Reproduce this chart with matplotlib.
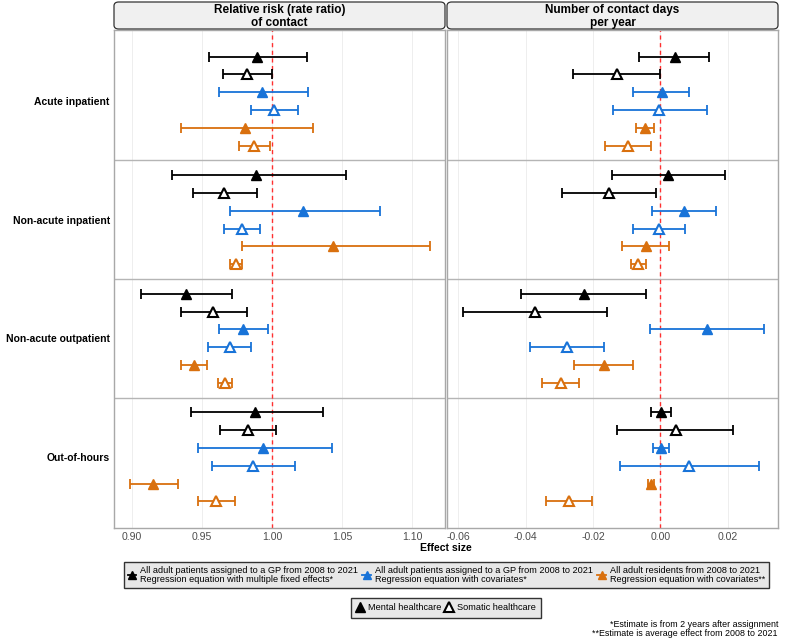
import matplotlib.pyplot as plt
from matplotlib.lines import Line2D
from matplotlib.patches import FancyBboxPatch

plt.rcParams['font.family'] = ['Liberation Sans', 'DejaVu Sans']

categories = ["Acute inpatient", "Non-acute inpatient", "Non-acute outpatient", "Out-of-hours"]

# rows: GP fixed effects (mental, somatic), GP covariates (mental, somatic),
#       residents covariates (mental, somatic); columns follow categories
rr_est = [
    [0.9895, 0.9886, 0.9386, 0.9876],
    [0.9820, 0.9659, 0.9581, 0.9829],
    [0.9930, 1.0219, 0.9795, 0.9936],
    [1.0014, 0.9788, 0.9698, 0.9862],
    [0.9807, 1.0438, 0.9443, 0.9148],
    [0.9874, 0.9743, 0.9662, 0.9600],
]
rr_lo = [
    [0.9550, 0.9283, 0.9064, 0.9417],
    [0.9648, 0.9434, 0.9352, 0.9631],
    [0.9617, 0.9698, 0.9624, 0.9469],
    [0.9850, 0.9659, 0.9545, 0.9567],
    [0.9348, 0.9786, 0.9348, 0.8981],
    [0.9767, 0.9698, 0.9612, 0.9469],
]
rr_hi = [
    [1.0250, 1.0529, 0.9714, 1.0362],
    [1.0000, 0.9893, 0.9819, 1.0029],
    [1.0257, 1.0769, 0.9971, 1.0426],
    [1.0188, 0.9917, 0.9852, 1.0162],
    [1.0293, 1.1131, 0.9538, 0.9324],
    [0.9986, 0.9788, 0.9716, 0.9736],
]

days_est = [
    [0.0042, 0.0024, -0.0228, 0.0001],
    [-0.0129, -0.0152, -0.0371, 0.0045],
    [0.0004, 0.0070, 0.0139, 0.0001],
    [-0.0003, -0.0005, -0.0278, 0.0085],
    [-0.0047, -0.0042, -0.0167, -0.0029],
    [-0.0095, -0.0065, -0.0295, -0.0270],
]
days_lo = [
    [-0.0062, -0.0143, -0.0413, -0.0028],
    [-0.0258, -0.0292, -0.0587, -0.0130],
    [-0.0080, -0.0026, -0.0031, -0.0022],
    [-0.0141, -0.0081, -0.0386, -0.0121],
    [-0.0073, -0.0114, -0.0255, -0.0038],
    [-0.0165, -0.0088, -0.0350, -0.0339],
]
days_hi = [
    [0.0143, 0.0191, -0.0044, 0.0031],
    [0.0000, -0.0014, -0.0158, 0.0216],
    [0.0086, 0.0165, 0.0308, 0.0026],
    [0.0139, 0.0072, -0.0167, 0.0292],
    [-0.0020, 0.0027, -0.0080, -0.0019],
    [-0.0027, -0.0042, -0.0240, -0.0203],
]

group_labels = [
    "All adult patients assigned to a GP from 2008 to 2021\nRegression equation with multiple fixed effects*",
    "All adult patients assigned to a GP from 2008 to 2021\nRegression equation with covariates*",
    "All adult residents from 2008 to 2021\nRegression equation with covariates**",
]
group_colors = ["black", "#1873D8", "#D9700E"]
care_labels = ["Mental healthcare", "Somatic healthcare"]

panel_titles = ["Relative risk (rate ratio)\nof contact", "Number of contact days\nper year"]
rr_ticks = [0.90, 0.95, 1.00, 1.05, 1.10]
days_ticks = [-0.06, -0.04, -0.02, 0.00, 0.02]

offsets = [-0.375, -0.225, -0.075, 0.075, 0.225, 0.375]

fig = plt.figure(figsize=(7.94, 6.41), dpi=100)
W, H = 794, 641
ax1 = fig.add_axes([114 / W, 1 - 528 / H, 331 / W, 498 / H])
ax2 = fig.add_axes([447 / W, 1 - 528 / H, 331 / W, 498 / H])

panels = [
    (ax1, rr_est, rr_lo, rr_hi, 1.0, (0.887, 1.1236), rr_ticks),
    (ax2, days_est, days_lo, days_hi, 0.0, (-0.0633, 0.0349), days_ticks),
]

for ax, est, lo, hi, ref, xlim, ticks in panels:
    ax.set_xlim(*xlim)
    ax.set_ylim(3.6, -0.6)
    ax.set_xticks(ticks)
    ax.set_xticklabels(["%.2f" % t for t in ticks], fontsize=7.6, color="#4D4D4D")
    ax.grid(axis="x", color="#EBEBEB", lw=0.6)
    ax.set_axisbelow(True)
    for sp in ax.spines.values():
        sp.set_color("#A8A8A8")
        sp.set_linewidth(1.0)
    for b in [0.5, 1.5, 2.5]:
        ax.axhline(b, color="#B5B5B5", lw=1.0, zorder=1)
    ax.axvline(ref, color="#FF3030", lw=1.0, ls=(0, (3, 2.5)), zorder=2)
    ax.tick_params(axis="both", length=0, pad=3)
    for s in range(6):
        color = group_colors[s // 2]
        filled = s % 2 == 0
        ys = [c + offsets[s] for c in range(len(categories))]
        xerr = [[e - l for e, l in zip(est[s], lo[s])], [h - e for e, h in zip(est[s], hi[s])]]
        ax.errorbar(est[s], ys, xerr=xerr, fmt="none", ecolor=color, elinewidth=1.3,
                    capsize=3.6, capthick=1.3, zorder=3)
        ax.plot(est[s], ys, linestyle="none", marker="^",
                ms=7.5 if filled else 7, mfc=color if filled else "white",
                mec=color, mew=1.0 if filled else 1.5, zorder=4)

ax1.set_yticks(range(len(categories)))
ax1.set_yticklabels(categories, fontsize=7.5, fontweight="bold", color="black")
ax2.set_yticks(range(len(categories)))
ax2.set_yticklabels([])

# facet strips
for ax, title in zip([ax1, ax2], panel_titles):
    pos = ax.get_position()
    y0, y1 = 1 - 29 / H, 1 - 2 / H
    strip = FancyBboxPatch((pos.x0, y0), pos.width, y1 - y0, transform=fig.transFigure,
                           boxstyle="round,pad=0,rounding_size=0.006",
                           facecolor="#F0F0F0", edgecolor="#333333", lw=0.9)
    fig.patches.append(strip)
    fig.text(pos.x0 + pos.width / 2, (y0 + y1) / 2 - 0.001, title, ha="center", va="center",
             fontsize=8.5, fontweight="bold", linespacing=1.08)

fig.text(446 / W, 1 - 548 / H, "Effect size", ha="center", va="center",
         fontsize=7.6, fontweight="bold")

h1 = [Line2D([0], [0], color=c, lw=1.3, marker="^", ms=6) for c in group_colors]
leg1 = fig.legend(h1, group_labels, loc="center", bbox_to_anchor=(446.5 / W, 1 - 575 / H),
                  ncol=3, fontsize=6.6, frameon=True, fancybox=False, edgecolor="#333333",
                  facecolor="#E8E8E8", framealpha=1, handlelength=0.9, handletextpad=0.5,
                  columnspacing=0.45, borderpad=0.4, labelspacing=0.3)
leg1.get_frame().set_linewidth(1.0)
for t in leg1.get_texts():
    t.set_linespacing(1.05)

h2 = [Line2D([0], [0], color="black", linestyle="none", marker="^", ms=7, mfc="black", mec="black"),
      Line2D([0], [0], color="black", linestyle="none", marker="^", ms=6.5, mfc="white", mec="black", mew=1.5)]
leg2 = fig.legend(h2, care_labels, loc="center", bbox_to_anchor=(446 / W, 1 - 608 / H),
                  ncol=2, fontsize=6.6, frameon=True, fancybox=False, edgecolor="#333333",
                  facecolor="#E8E8E8", framealpha=1, handlelength=0.8, handletextpad=0.4,
                  columnspacing=0.5, borderpad=0.6)
leg2.get_frame().set_linewidth(1.0)

fig.text(778 / W, 1 - 629 / H,
         "*Estimate is from 2 years after assignment\n**Estimate is average effect from 2008 to 2021",
         ha="right", va="center", fontsize=6.4, linespacing=1.0)

fig.savefig("out.png", dpi=100)
